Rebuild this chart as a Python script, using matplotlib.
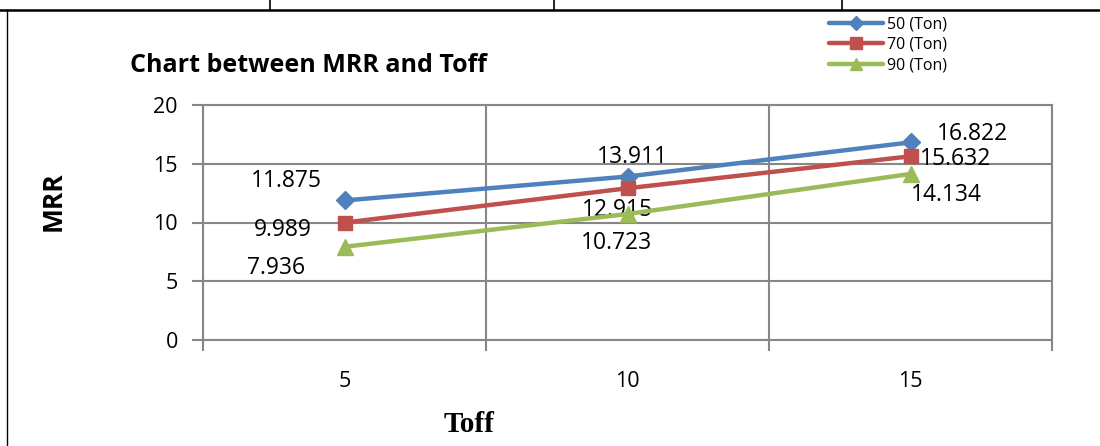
import matplotlib.pyplot as plt
from matplotlib.lines import Line2D

# Data: MRR against Toff for three tonnage settings
toff = ['5', '10', '15']
mrr_50 = [11.875, 13.911, 16.822]
mrr_70 = [9.989, 12.915, 15.632]
mrr_90 = [7.936, 10.723, 14.134]
series_names = ['50 (Ton)', '70 (Ton)', '90 (Ton)']

# label offsets (pixels) for each data label
offs_50 = [(-58, 19), (5, 20), (62, 8)]
offs_70 = [(-62, -7), (-10, -22), (45, -3)]
offs_90 = [(-68, -21), (-11, -29), (36, -21)]

plt.rcParams['font.family'] = ['Open Sans', 'DejaVu Sans']

W, H = 1100, 446
fig = plt.figure(figsize=(W / 100, H / 100), dpi=100)
ax = fig.add_axes([203 / W, 1 - 340 / H, (1052 - 203) / W, (340 - 105) / H])

grid_c = '#878787'
xs = [0.5, 1.5, 2.5]
styles = [
    (mrr_50, '#4F81BD', 'D', 9, offs_50),
    (mrr_70, '#C0504D', 's', 10, offs_70),
    (mrr_90, '#9BBB59', '^', 11, offs_90),
]
handles = []
for (vals, col, mk, ms, offs), name in zip(styles, series_names):
    h, = ax.plot(xs, vals, color=col, lw=3.2, marker=mk, markersize=ms,
                 label=name, zorder=3, solid_capstyle='round')
    handles.append(h)
    for x, v, o in zip(xs, vals, offs):
        ax.annotate(str(v), (x, v), xytext=o, textcoords='offset pixels',
                    ha='center', va='center', fontsize=16.5, color='black')

ax.set_xlim(0, 3)
ax.set_ylim(0, 20)
ax.set_yticks([0, 5, 10, 15, 20])
ax.set_xticks([0, 1, 2, 3])
ax.set_xticklabels([])
ax.set_xticks(xs, minor=True)
ax.set_xticklabels(toff, minor=True)
ax.tick_params(axis='x', which='minor', length=0, pad=22, labelsize=15.5)
ax.tick_params(axis='x', which='major', length=8, width=1.5, color=grid_c, direction='out')
ax.tick_params(axis='y', length=8, width=1.5, color=grid_c, labelsize=15.5, pad=10)
ax.grid(True, which='major', color=grid_c, lw=1.5)
for s in ax.spines.values():
    s.set_color(grid_c)
    s.set_linewidth(1.5)
ax.set_axisbelow(True)

fig.text(53 / W, 1 - 201 / H, 'MRR', fontsize=19, fontweight='bold',
         rotation=90, ha='center', va='center')
fig.text(469 / W, 1 - 425 / H, 'Toff', fontsize=21, fontweight='bold',
         family='Liberation Serif', ha='center', va='center')
fig.text(130 / W, 1 - 66 / H, 'Chart between MRR and Toff', fontsize=18,
         fontweight='bold', ha='left', va='center')

fig.legend(handles=handles, loc='upper left', bbox_to_anchor=(818 / W, 1 - 5 / H),
           frameon=False, fontsize=11.5, handlelength=3.4, handletextpad=0.2,
           labelspacing=0.3, borderpad=0.2, markerscale=0.8)

# surrounding table borders
fig.add_artist(Line2D([0, 1], [1 - 10 / H] * 2, color='black', lw=1.8))
fig.add_artist(Line2D([7 / W] * 2, [0, 1 - 10 / H], color='black', lw=1.0))
for bx in [270, 554, 842]:
    fig.add_artist(Line2D([bx / W] * 2, [1 - 10 / H, 1], color='black', lw=1.2))

fig.savefig('out.png', dpi=100)
